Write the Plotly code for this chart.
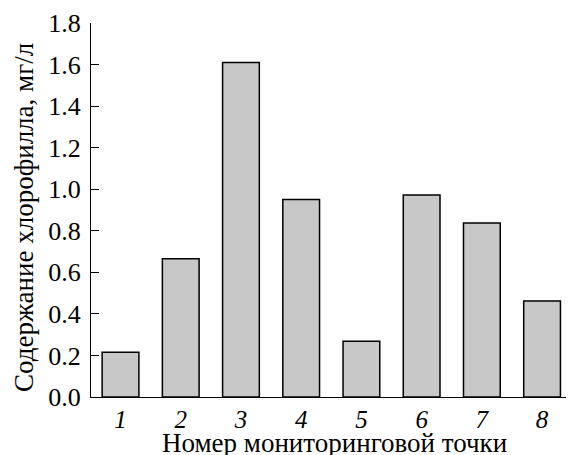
import plotly.graph_objects as go

points = [1, 2, 3, 4, 5, 6, 7, 8]
point_labels = ["1", "2", "3", "4", "5", "6", "7", "8"]
chlorophyll = [0.215, 0.665, 1.61, 0.95, 0.268, 0.972, 0.838, 0.462]
y_ticks = [0.0, 0.2, 0.4, 0.6, 0.8, 1.0, 1.2, 1.4, 1.6, 1.8]
x_title = "Номер мониторинговой точки"
y_title = "Содержание хлорофилла, мг/л"

FONT = "Liberation Serif, Times New Roman, serif"

# page body has an 8px offset; compensate in figure geometry
W, H = 566, 447
L, R, T, B = 83, 0, 15, 58
plot_w = W - L - R
plot_h = H - T - B

fig = go.Figure(go.Bar(
    x=points, y=chlorophyll, width=0.61,
    marker=dict(color="#c8c8c8", line=dict(color="black", width=1.5)),
))

fig.update_layout(
    width=W, height=H,
    margin=dict(l=L, r=R, t=T, b=B, autoexpand=False),
    plot_bgcolor="white", paper_bgcolor="white",
    font=dict(family=FONT, color="black", size=26),
    showlegend=False,
    xaxis=dict(
        range=[0.51, 8.53], tickmode="array", tickvals=points,
        ticktext=[f"<i>{t}</i>" for t in point_labels],
        showline=True, linecolor="black", linewidth=1, ticks="",
        showgrid=False, zeroline=False, automargin=False,
        tickfont=dict(size=25), ticklabelstandoff=0,
    ),
    yaxis=dict(
        range=[0, 1.8], tickmode="array", tickvals=y_ticks, tickformat=".1f",
        showline=True, linecolor="black", linewidth=1,
        ticks="inside", ticklen=8, tickcolor="black",
        showgrid=False, zeroline=False, ticklabelstandoff=4, automargin=False,
        tickfont=dict(size=26),
    ),
    annotations=[
        dict(text=x_title, xref="paper", yref="paper",
             x=(334 - 8 - L) / plot_w, y=0, xanchor="center", yanchor="middle",
             yshift=-46, showarrow=False, font=dict(size=27)),
        dict(text=y_title, xref="paper", yref="paper", textangle=-90,
             x=(24 - 8 - L) / plot_w, y=(H - B - (218 - 8)) / plot_h,
             xanchor="center", yanchor="middle", showarrow=False,
             font=dict(size=27)),
    ],
)

fig.write_html("out.html")
